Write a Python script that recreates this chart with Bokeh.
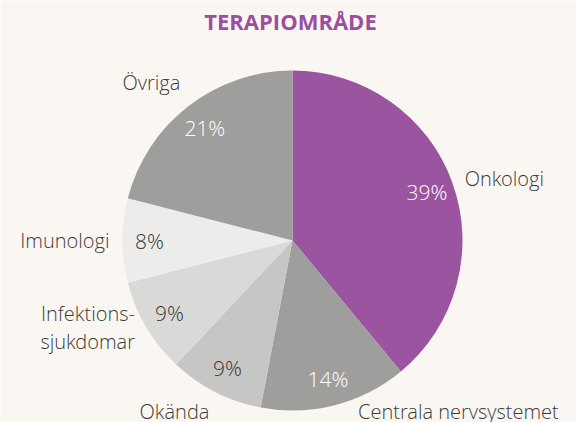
import math
from bokeh.plotting import figure
from bokeh.models import Range1d, ColumnDataSource
from bokeh.core.properties import value
from bokeh.embed import file_html
from bokeh.resources import INLINE

# ---- data ----
categories = ["Onkologi", "Centrala nervsystemet", "Okända", "Infektions-\nsjukdomar", "Imunologi", "Övriga"]
shares = [39, 14, 9, 9, 8, 21]
pct_labels = ["39%", "14%", "9%", "9%", "8%", "21%"]
colors = ["#9b54a0", "#9e9e9c", "#c6c6c5", "#d9d9d8", "#ececeb", "#9e9e9c"]
pct_colors = ["#ffffff", "#ffffff", "#3a3a3a", "#3a3a3a", "#3a3a3a", "#ffffff"]
title = "TERAPIOMRÅDE"

BG = "#faf7f2"
W, H = 576, 422
cx, cy, R = 292, 182, 170
FONT = value("'Open Sans Light', 'Open Sans'")

total = sum(shares)
starts, ends, mids = [], [], []
cum = 0
for s in shares:
    a0 = math.pi / 2 - 2 * math.pi * cum / total
    cum += s
    a1 = math.pi / 2 - 2 * math.pi * cum / total
    starts.append(a0)
    ends.append(a1)
    mids.append((a0 + a1) / 2)

r_in = 143
px = [cx + r_in * math.cos(m) for m in mids]
py = [cy + r_in * math.sin(m) for m in mids]
r_out = 183
lx, ly, align, base = [], [], [], []
for m in mids:
    c, s = math.cos(m), math.sin(m)
    x = cx + r_out * c
    y = cy + r_out * s
    if s < -0.7:          # bottom row of labels sits just above the page edge
        y = 11
        if c > 0:
            x += 20
    elif s < -0.3:
        y += 6
    lx.append(x)
    ly.append(y)
    align.append("left" if c > 0 else "right")
    base.append("bottom" if s > 0.7 else "middle")

src = ColumnDataSource(dict(start=starts, end=ends, color=colors,
                            px=px, py=py, pct=pct_labels, pcol=pct_colors,
                            lx=lx, ly=ly, cat=categories, align=align, base=base))

p = figure(width=W, height=H, output_backend="svg", toolbar_location=None,
           x_range=Range1d(0, W), y_range=Range1d(0, H), min_border=0)
p.axis.visible = False
p.grid.visible = False
p.outline_line_color = None
p.background_fill_color = BG
p.border_fill_color = BG

p.wedge(x=cx, y=cy, radius=R, start_angle="start", end_angle="end",
        direction="clock", fill_color="color", line_color=None, source=src)

p.text(x="px", y="py", text="pct", text_color="pcol", source=src,
       text_font=FONT, text_font_size="21px",
       text_align="center", text_baseline="middle")

p.text(x="lx", y="ly", text="cat", text_align="align", text_baseline="base",
       source=src, text_color="#3a3a3a", text_font=FONT, text_font_size="20px",
       text_line_height=1.05)

p.text(x=[290], y=[H - 20], text=[title], text_color="#9b4f9e",
       text_font=value("Open Sans"), text_font_style="bold",
       text_font_size="22px", text_align="center", text_baseline="middle")

html = file_html(p, INLINE)
html = html.replace("<body>", f'<body style="background:{BG};">', 1)
open("out.html", "w").write(html)
